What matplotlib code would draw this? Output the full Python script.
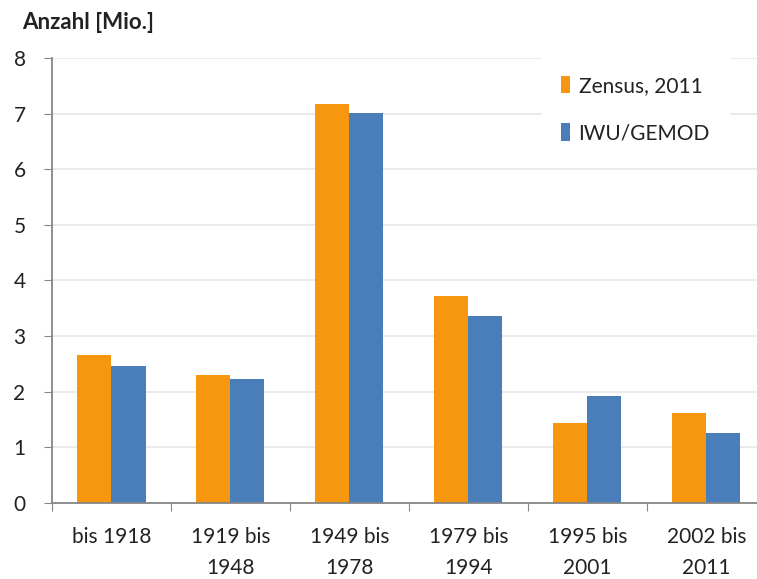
import numpy as np
import matplotlib.pyplot as plt

# Gebäude nach Baualter (Anzahl in Mio.)
categories = ["bis 1918", "1919 bis\n1948", "1949 bis\n1978", "1979 bis\n1994",
              "1995 bis\n2001", "2002 bis\n2011"]
zensus = [2.66, 2.30, 7.17, 3.72, 1.43, 1.61]
iwu = [2.47, 2.22, 7.01, 3.36, 1.92, 1.26]

orange = '#F7960F'
blue = '#4A7EBB'
axis_col = '#868686'

plt.rcParams['font.family'] = ['Lato', 'DejaVu Sans']

fig = plt.figure(figsize=(7.57, 5.79), dpi=100)
ax = fig.add_axes([0.0687, 0.1313, 0.943, 0.7686])

x = np.arange(len(categories))
w = 0.286
ax.bar(x - w/2, zensus, w, color=orange, label="Zensus, 2011", zorder=2)
ax.bar(x + w/2, iwu, w, color=blue, label="IWU/GEMOD", zorder=2)

ax.set_xlim(-0.5, len(categories) - 0.5)
ax.set_ylim(0, 8)
ax.set_yticks(range(0, 9))
ax.tick_params(axis='y', labelsize=15, length=6, color=axis_col, pad=13, labelcolor='#222222')
ax.yaxis.grid(True, color='#E6E6E6', linewidth=1.2, zorder=0)
ax.set_axisbelow(True)

# category separators as major ticks, labels on minor ticks
ax.set_xticks(np.arange(-0.5, len(categories), 1.0))
ax.set_xticklabels([])
ax.set_xticks(x, minor=True)
ax.set_xticklabels(categories, minor=True, fontsize=15, linespacing=1.7, color='#222222')
ax.tick_params(axis='x', which='major', length=6, color=axis_col)
ax.tick_params(axis='x', which='minor', length=0, pad=17)

for s in ['top', 'right']:
    ax.spines[s].set_visible(False)
for s in ['left', 'bottom']:
    ax.spines[s].set_color(axis_col)
    ax.spines[s].set_linewidth(1.3)

fig.text(0.029, 0.962, "Anzahl [Mio.]", fontsize=16, fontweight='bold',
         va='center', ha='left', color='#222222')

leg = ax.legend(loc='upper left', bbox_to_anchor=(0.672, 1.025), frameon=True,
                fontsize=15, handlelength=0.45, handleheight=0.9, handletextpad=0.4,
                labelspacing=1.3, borderpad=0.9, edgecolor='white', fancybox=False)
leg.get_frame().set_facecolor('white')
leg.get_frame().set_alpha(1)
for t in leg.get_texts():
    t.set_color('#222222')

fig.savefig("out.png", dpi=100)
